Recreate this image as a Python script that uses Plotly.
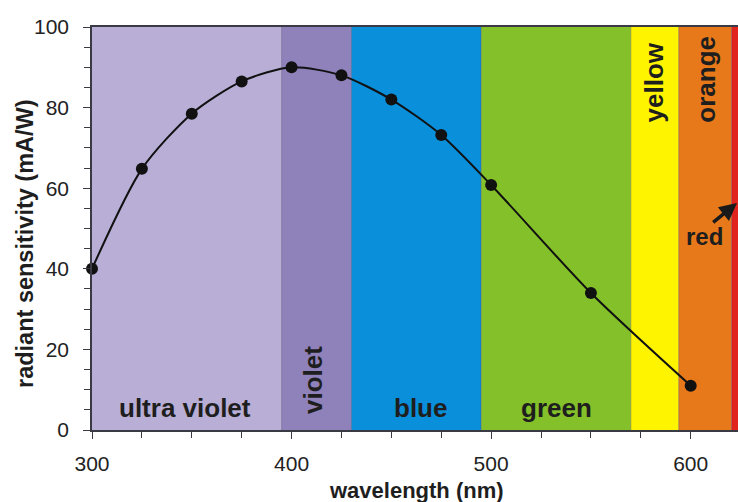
import plotly.graph_objects as go

# data
wavelength = [300, 325, 350, 375, 400, 425, 450, 475, 500, 550, 600]
sensitivity = [40, 64.8, 78.5, 86.5, 90, 88, 82, 73.2, 60.8, 34, 11]

band_names = ["ultra violet", "violet", "blue", "green", "yellow", "orange", "red"]
band_start = [300, 395, 430, 495, 570, 594, 620.5]
band_end = [395, 430, 495, 570, 594, 620.5, 630]
band_colors = ["#B8AED6", "#8F81BA", "#0A8FDA", "#84C02A", "#FFF400", "#E8791B", "#E1241D"]

# label placement (data coords) and orientation
label_x = [346.6, 411, 464.5, 532.8, 581.5, 607.5]
label_y = [5.5, 12.3, 5.5, 5.5, 86.2, 87.1]
label_angle = [0, -90, 0, 0, -90, -90]

x_ticks = [300, 400, 500, 600]
y_ticks = [0, 20, 40, 60, 80, 100]

FONT = "Liberation Sans, Arial, sans-serif"
TXT = "#1e1e1e"

fig = go.Figure()

shapes = []
for s, e, c in zip(band_start, band_end, band_colors):
    shapes.append(dict(type="rect", xref="x", yref="paper", x0=s, x1=e, y0=0, y1=1,
                       fillcolor=c, line=dict(width=0), layer="below"))
# thin separators between bands
for s in band_start[1:]:
    shapes.append(dict(type="line", xref="x", yref="paper", x0=s, x1=s, y0=0, y1=1,
                       line=dict(color="rgba(60,50,90,0.35)", width=1), layer="below"))

fig.add_trace(go.Scatter(
    x=wavelength, y=sensitivity, mode="lines+markers",
    line=dict(color="#111111", width=2, shape="spline", smoothing=0.75),
    marker=dict(color="#111111", size=12),
    cliponaxis=False, showlegend=False,
))

annotations = []
for name, lx, ly, ang in zip(band_names[:6], label_x, label_y, label_angle):
    annotations.append(dict(x=lx, y=ly, xref="x", yref="y", text="<b>%s</b>" % name,
                            showarrow=False, textangle=ang,
                            font=dict(family=FONT, size=26, color=TXT),
                            xanchor="center", yanchor="middle"))
# "red" label + arrow
annotations.append(dict(x=607, y=48, xref="x", yref="y", text="<b>red</b>", showarrow=False,
                        font=dict(family=FONT, size=24, color=TXT),
                        xanchor="center", yanchor="middle"))
annotations.append(dict(x=623.2, y=56.3, xref="x", yref="y", ax=610.5, ay=51.2,
                        axref="x", ayref="y", text="", showarrow=True,
                        arrowhead=2, arrowsize=1.0, arrowwidth=3.5, arrowcolor="#1a1a1a",
                        standoff=0, startstandoff=0))
# axis titles
annotations.append(dict(x=300 + (416.7 - 92) / 1.9957, y=-(490 - 430) / 403.0,
                        xref="x", yref="paper", text="<b>wavelength (nm)</b>",
                        showarrow=False, font=dict(family=FONT, size=22, color=TXT),
                        xanchor="center", yanchor="middle"))
annotations.append(dict(x=-(92 - 25) / 646.0, y=(430 - 244) / 403.0, xref="paper", yref="paper",
                        text="<b>radiant sensitivity (mA/W)</b>", showarrow=False, textangle=-90,
                        font=dict(family=FONT, size=23.5, color=TXT),
                        xanchor="center", yanchor="middle"))

fig.update_layout(
    width=738, height=502,
    margin=dict(l=92, r=0, t=27, b=72, pad=0),
    paper_bgcolor="white", plot_bgcolor="white",
    shapes=shapes, annotations=annotations,
    font=dict(family=FONT, color=TXT),
    xaxis=dict(range=[300, 623.7], tickvals=x_ticks, ticktext=[str(v) for v in x_ticks],
               showgrid=False, zeroline=False, showline=True, linecolor="#3a3a44", linewidth=1.5,
               mirror=True, ticks="outside", ticklen=7, tickwidth=1.3, tickcolor="#3a3a44",
               tickfont=dict(family=FONT, size=21, color="#222"), ticklabelstandoff=7,
               minor=dict(dtick=25, tick0=300, ticks="outside", ticklen=6, tickwidth=1.2,
                          tickcolor="#3a3a44", showgrid=False)),
    yaxis=dict(range=[0, 100], tickvals=y_ticks, ticktext=[str(v) for v in y_ticks],
               showgrid=False, zeroline=False, showline=True, linecolor="#3a3a44", linewidth=1.5,
               ticks="outside", ticklen=7, tickwidth=1.3, tickcolor="#3a3a44",
               tickfont=dict(family=FONT, size=21, color="#222"), ticklabelstandoff=10,
               minor=dict(dtick=5, tick0=0, ticks="outside", ticklen=6, tickwidth=1.2,
                          tickcolor="#3a3a44", showgrid=False)),
)

fig.write_html("out.html", config={"displayModeBar": False},
               post_script="document.body.style.margin='0px';")
